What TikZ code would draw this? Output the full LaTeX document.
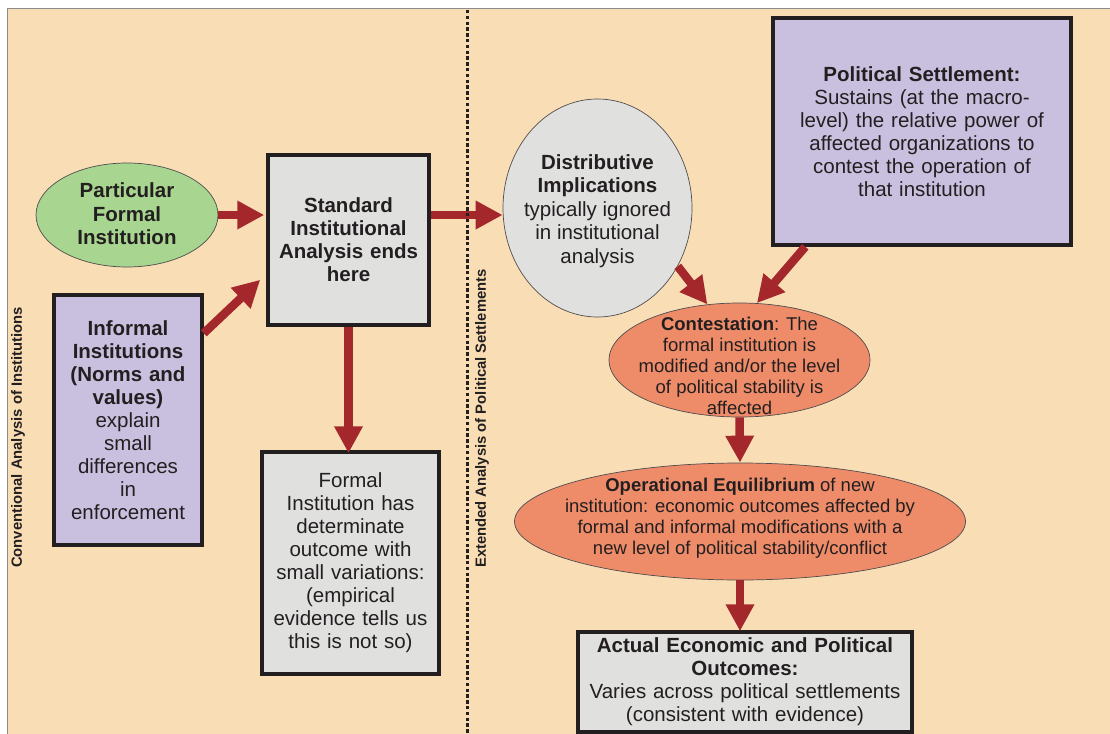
\documentclass[tikz,border=0pt]{standalone}
\usepackage{fontspec}
\setmainfont{Liberation Sans}
\usetikzlibrary{arrows.meta,shapes.geometric,calc}
\definecolor{peach}{RGB}{249,222,181}
\definecolor{framegray}{RGB}{140,140,140}
\definecolor{greenf}{RGB}{168,213,143}
\definecolor{grayf}{RGB}{224,224,223}
\definecolor{lavf}{RGB}{201,192,224}
\definecolor{salmonf}{RGB}{238,140,106}
\definecolor{arrowred}{RGB}{164,40,43}
\definecolor{ink}{RGB}{35,31,32}
\begin{document}
\begin{tikzpicture}[x=1pt,y=-1pt,
  box/.style={draw=ink, line width=3.5pt, rectangle, inner sep=0pt, align=center,
    text=ink, font=\fontsize{20.5}{23}\selectfont},
  ell/.style={draw=ink!80, line width=0.7pt, ellipse, inner sep=0pt},
  etxt/.style={align=center, inner sep=0pt, text=ink, font=\fontsize{20.5}{23.5}\selectfont},
  stxt/.style={align=center, inner sep=0pt, text=ink, font=\fontsize{18.5}{21}\selectfont},
  side/.style={rotate=90, anchor=west, inner sep=0pt, text=ink, font=\fontsize{14.8}{17}\selectfont\bfseries},
  arr/.style={draw=arrowred, line width=8.5pt, -{Triangle[length=27pt,width=27pt]}}]
\useasboundingbox (0,0) rectangle (1110,733);
\fill[white] (0,0) rectangle (1110,733);
\draw[fill=peach, draw=framegray, line width=1pt] (7,9) rectangle (1125,745);

% boxes
\node[box, fill=grayf, minimum width=161pt, minimum height=170pt, text width=150pt] (std) at (348.5,240)
  {\textbf{Standard}\\\textbf{Institutional}\\\textbf{Analysis ends}\\\textbf{here}};
\node[box, fill=lavf, minimum width=148pt, minimum height=250pt, text width=140pt] (inf) at (128,420)
  {\textbf{Informal}\\\textbf{Institutions}\\\textbf{(Norms and}\\\textbf{values)}\\explain\\small\\differences\\in\\enforcement};
\node[box, fill=grayf, minimum width=177pt, minimum height=222pt, text width=168pt] (form) at (350.5,563)
  {Formal\\Institution has\\determinate\\outcome with\\small variations:\\(empirical\\evidence tells us\\this is not so)};
\node[box, fill=lavf, minimum width=298pt, minimum height=227pt, text width=288pt] (pol) at (922,131.5)
  {\textbf{Political Settlement:}\\Sustains (at the macro-\\level) the relative power of\\affected organizations to\\contest the operation of\\that institution};
\node[box, fill=grayf, minimum width=334pt, minimum height=100pt, text width=324pt] (act) at (745,682)
  {\textbf{Actual Economic and Political}\\\textbf{Outcomes:}\\Varies across political settlements\\(consistent with evidence)};

% ellipses
\node[ell, fill=greenf, minimum width=182pt, minimum height=104pt] (gr) at (127,215) {};
\node[etxt] (grT) at (127,214) {\textbf{Particular}\\\textbf{Formal}\\\textbf{Institution}};
\node[ell, fill=grayf, minimum width=189pt, minimum height=218pt] (dist) at (597.5,208) {};
\node[etxt] (distT) at (597.5,211) {\textbf{Distributive}\\\textbf{Implications}\\typically ignored\\in institutional\\analysis};
\node[ell, fill=salmonf, minimum width=261pt, minimum height=114pt] (cont) at (739.5,360) {};
\node[stxt] (contT) at (739.5,366) {\textbf{Contestation}: The\\formal institution is\\modified and/or the level\\of political stability is\\affected};
\node[ell, fill=salmonf, minimum width=451pt, minimum height=117pt] (oper) at (740,521.5) {};
\node[stxt] (operT) at (740,518) {\textbf{Operational Equilibrium} of new\\institution: economic outcomes affected by\\formal and informal modifications with a\\new level of political stability/conflict};

% side labels
\node[side] (convL) at (18,568) {Conventional Analysis of Institutions};
\node[side] (extL) at (482,568) {Extended Analysis of Political Settlements};

% arrows
\draw[arr] (gr.east) -- ([xshift=-2pt]std.west |- gr.east);
\draw[arr] ($(inf.north east)+(0,40)$) -- ($(std.south west)+(-6,-47)$);
\draw[arr] (std.east |- gr.east) -- (dist.west |- gr.east);
\draw[arr] (std.south) -- ([yshift=-3pt]std.south |- form.north);
\draw[arr] (dist.-36) -- (cont.120);
\draw[arr] ($(pol.south west)+(34,0)$) -- (cont.73);
\draw[arr] (cont.south) -- (oper.north);
\draw[arr] (oper.south) -- ([yshift=-1pt]oper.south |- act.north);

% dotted divider
\draw[ink, line width=3.6pt, dash pattern=on 3.4pt off 2.4pt] (467.5,10) -- (467.5,733);
\end{tikzpicture}
\end{document}
